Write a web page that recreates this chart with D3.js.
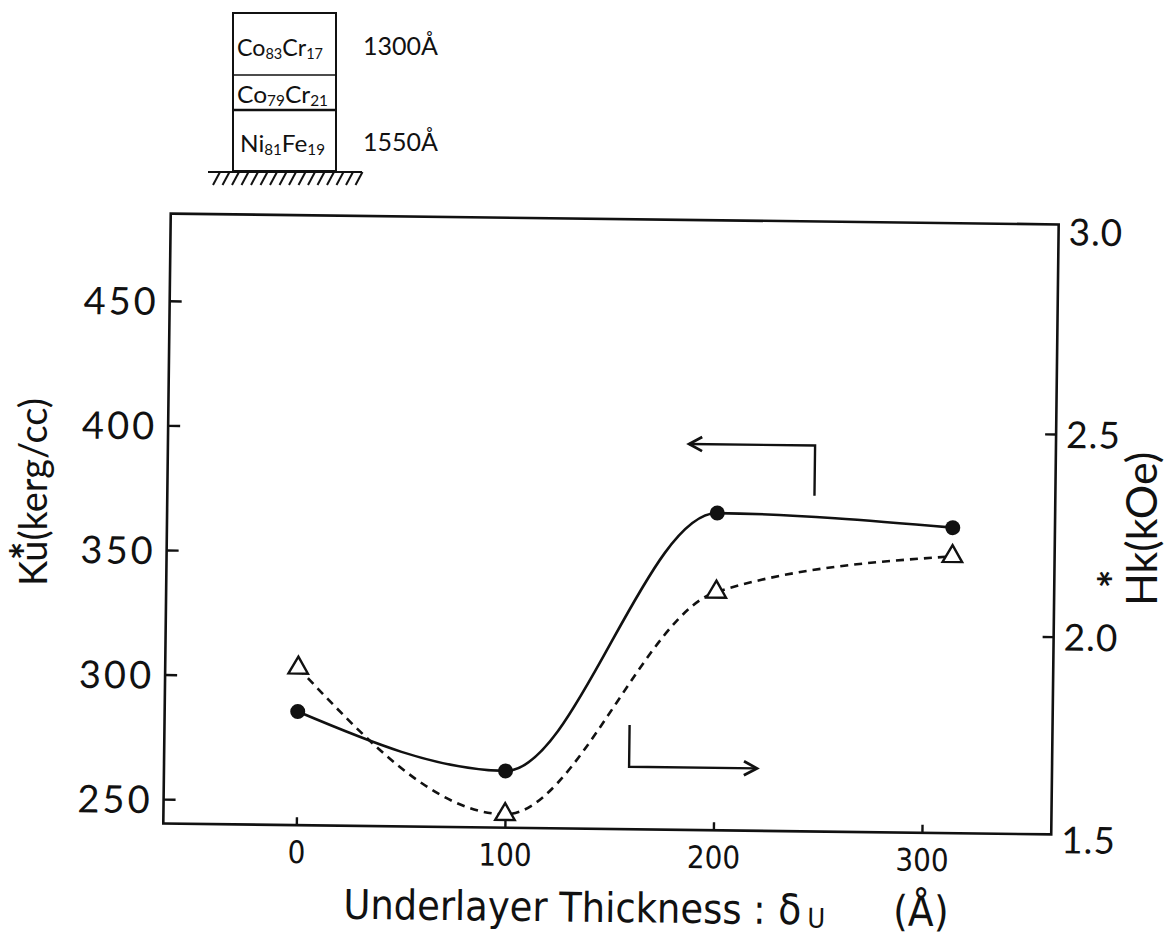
<!DOCTYPE html>
<html>
<head>
<meta charset="utf-8">
<script src="https://cdn.jsdelivr.net/npm/d3@7"></script>
<style>
  html, body { margin: 0; padding: 0; background: #fff; }
  svg { display: block; }
</style>
</head>
<body>
<svg id="chart" width="1170" height="935"></svg>
<script>
// Underlayer (Co79Cr21) thickness, Å
const thickness = [0, 100, 200, 313];
// Ku* (kerg/cc), filled circles, left axis
const kuValues = [285.8, 263.0, 367.5, 362.8];
// Hk* (kOe), open triangles, right axis
const hkValues = [1.90, 1.545, 2.10, 2.195];

const xTicks = [0, 100, 200, 300];
const kuTicks = [250, 300, 350, 400, 450];
const hkTickLabels = [1.5, 2.0, 2.5, 3.0];
const hkTickMarks = [2.0, 2.5];

// Bent arrows telling which axis each curve belongs to (data units)
const kuArrow = { x: 246.5, from: 374.9, to: 395.1, tip: 186.1 };
const hkArrow = { x: 159.2, from: 1.769, to: 1.666, tip: 220.5 };

// Film stack sketch: layer name parts (text, isSubscript) and thickness
const stackNames = [
  [["Co", false], ["83", true], ["Cr", false], ["17", true]],
  [["Co", false], ["79", true], ["Cr", false], ["21", true]],
  [["Ni", false], ["81", true], ["Fe", false], ["19", true]]
];
const stackThickness = ["1300Å", "", "1550Å"];

const svg = d3.select("#chart");
svg.append("rect").attr("width", 1170).attr("height", 935).attr("fill", "#fff");

const ink = "#111";
const numFont = "Lato, 'Noto Sans', sans-serif";
const narrowFont = "'Liberation Sans Narrow', 'DejaVu Sans Condensed', sans-serif";

// ---------- plot (slightly tilted, like a scanned page) ----------
const g = svg.append("g").attr("transform", "rotate(0.7,612,523)");

const x = d3.scaleLinear().domain([-63.8, 362]).range([167, 1055]);
const yKu = d3.scaleLinear().domain([240.2, 485]).range([829, 219]);
const yHk = d3.scaleLinear().domain([1.512, 3.017]).range([829, 219]);

// frame
g.append("rect")
  .attr("x", x.range()[0]).attr("y", yKu.range()[1])
  .attr("width", x.range()[1] - x.range()[0])
  .attr("height", yKu.range()[0] - yKu.range()[1])
  .attr("fill", "none").attr("stroke", ink).attr("stroke-width", 2.6);

function styleAxis(sel, font, size, spacing) {
  sel.select(".domain").remove();
  sel.selectAll(".tick line").attr("stroke", ink).attr("stroke-width", 2.4);
  sel.selectAll(".tick text")
    .attr("fill", ink)
    .attr("font-family", font)
    .attr("font-size", size)
    .attr("letter-spacing", spacing);
}

// left axis (Ku)
const axL = g.append("g").attr("transform", `translate(${x.range()[0]},0)`)
  .call(d3.axisLeft(yKu).tickValues(kuTicks).tickSizeInner(-12).tickSizeOuter(0)
    .tickPadding(11).tickFormat(d3.format("d")));
styleAxis(axL, numFont, 38, "3px");
axL.selectAll(".tick text").attr("dy", "0.36em");

// right axis (Hk)
const axR = g.append("g").attr("transform", `translate(${x.range()[1]},0)`)
  .call(d3.axisRight(yHk).tickValues(hkTickLabels).tickSizeInner(-11).tickSizeOuter(0)
    .tickPadding(10).tickFormat(d3.format(".1f")));
styleAxis(axR, numFont, 37, "1px");
axR.selectAll(".tick").filter(d => !hkTickMarks.includes(d)).select("line").remove();
axR.selectAll(".tick text").attr("dy", "0.36em");

// bottom axis
const axB = g.append("g").attr("transform", `translate(0,${yKu.range()[0]})`)
  .call(d3.axisBottom(x).tickValues(xTicks).tickSizeInner(-8).tickSizeOuter(0)
    .tickPadding(16).tickFormat(d3.format("d")));
styleAxis(axB, narrowFont, 31, "0px");

// x-axis title
const title = g.append("g").attr("fill", ink).attr("font-family", narrowFont);
title.append("text").attr("x", 348).attr("y", 922).attr("font-size", 41)
  .text("Underlayer Thickness :");
const sym = title.append("text").attr("x", 783).attr("y", 922).attr("font-size", 42);
sym.append("tspan").text("δ");
sym.append("tspan").attr("dx", 6).attr("dy", 3).attr("font-size", 27).text("U");
title.append("text").attr("x", 898).attr("y", 922).attr("font-size", 42).text("(Å)");

// curves
const kuData = thickness.map((t, i) => [t, kuValues[i]]);
const hkData = thickness.map((t, i) => [t, hkValues[i]]);

const kuLine = d3.line().x(d => x(d[0])).y(d => yKu(d[1])).curve(d3.curveMonotoneX);
const hkLine = d3.line().x(d => x(d[0])).y(d => yHk(d[1])).curve(d3.curveMonotoneX);

g.append("path").attr("d", hkLine(hkData))
  .attr("fill", "none").attr("stroke", ink).attr("stroke-width", 2.6)
  .attr("stroke-dasharray", "8,6");
g.append("path").attr("d", kuLine(kuData))
  .attr("fill", "none").attr("stroke", ink).attr("stroke-width", 2.6);

// markers
g.selectAll("path.tri").data(hkData).join("path").attr("class", "tri")
  .attr("d", d3.symbol(d3.symbolTriangle, 165)())
  .attr("transform", d => `translate(${x(d[0])},${yHk(d[1])})`)
  .attr("fill", "#fff").attr("stroke", ink).attr("stroke-width", 2.4);
g.selectAll("circle.dot").data(kuData).join("circle").attr("class", "dot")
  .attr("cx", d => x(d[0])).attr("cy", d => yKu(d[1])).attr("r", 7.5)
  .attr("fill", ink);

// bent arrows
function bentArrow(a, ys, dir) {
  const xc = x(a.x), y0 = ys(a.from), y1 = ys(a.to), xt = x(a.tip);
  g.append("path").attr("d", `M${xc},${y0}V${y1}H${xt}`)
    .attr("fill", "none").attr("stroke", ink).attr("stroke-width", 2.4);
  g.append("path").attr("d", `M${xt + dir * 13},${y1 - 7}L${xt},${y1}L${xt + dir * 13},${y1 + 7}`)
    .attr("fill", "none").attr("stroke", ink).attr("stroke-width", 2.8);
}
bentArrow(kuArrow, yKu, 1);
bentArrow(hkArrow, yHk, -1);

// axis titles
svg.append("text").attr("transform", "translate(47,586) rotate(-90)")
  .attr("font-family", numFont).attr("font-size", 38).attr("fill", ink)
  .text("Ku(kerg/cc)");
svg.append("text").attr("transform", "translate(42,551) rotate(-90)")
  .attr("font-family", numFont).attr("font-size", 44).attr("font-weight", "bold")
  .attr("fill", ink).attr("text-anchor", "middle").text("*");

svg.append("text").attr("transform", "translate(1157,606) rotate(-90)")
  .attr("font-family", numFont).attr("font-size", 43).attr("fill", ink)
  .text("Hk(kOe)");
svg.append("text").attr("transform", "translate(1130,579) rotate(-90)")
  .attr("font-family", numFont).attr("font-size", 44).attr("font-weight", "bold")
  .attr("fill", ink).attr("text-anchor", "middle").text("*");

// ---------- film stack sketch ----------
const st = svg.append("g").attr("stroke", ink).attr("fill", "none");
st.append("rect").attr("x", 233).attr("y", 13).attr("width", 103).attr("height", 158)
  .attr("stroke-width", 2);
st.append("line").attr("x1", 233).attr("x2", 336).attr("y1", 75).attr("y2", 75).attr("stroke-width", 1.6);
st.append("line").attr("x1", 233).attr("x2", 336).attr("y1", 110).attr("y2", 110).attr("stroke-width", 2.4);
st.append("line").attr("x1", 208).attr("x2", 362).attr("y1", 172).attr("y2", 172).attr("stroke-width", 2);
d3.range(16).forEach(i => {
  const hx = 216 + i * 9.5;
  st.append("line").attr("x1", hx + 4).attr("y1", 172).attr("x2", hx - 3).attr("y2", 185)
    .attr("stroke-width", 2);
});

const nameBase = [56, 103, 152];
const nameX = [237, 237, 240];
const nameW = [86, 91, 85];
stackNames.forEach((parts, i) => {
  const t = svg.append("text").attr("x", nameX[i]).attr("y", nameBase[i])
    .attr("font-family", numFont).attr("fill", ink)
    .attr("textLength", nameW[i]).attr("lengthAdjust", "spacingAndGlyphs");
  parts.forEach(([s, sub], k) => {
    const ts = t.append("tspan").text(s).attr("font-size", sub ? 15 : 24);
    if (sub) ts.attr("dy", 3);
    else if (k > 0) ts.attr("dy", -3);
  });
  if (stackThickness[i]) {
    svg.append("text").attr("x", 363).attr("y", nameBase[i] - 1)
      .attr("font-family", numFont).attr("font-size", 25).attr("fill", ink)
      .attr("textLength", 75).attr("lengthAdjust", "spacingAndGlyphs")
      .text(stackThickness[i]);
  }
});
</script>
</body>
</html>
